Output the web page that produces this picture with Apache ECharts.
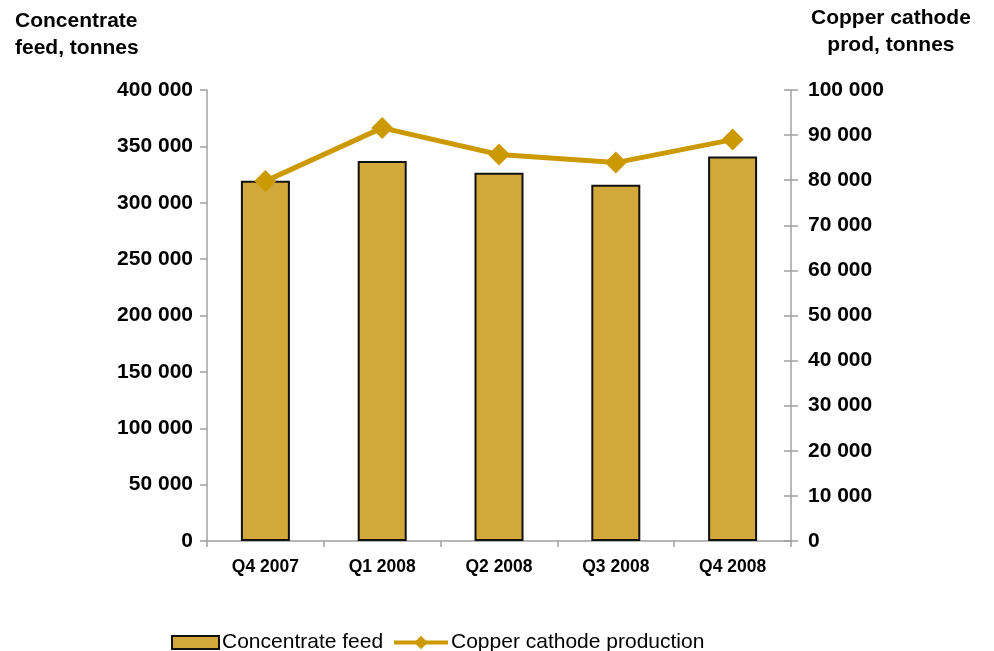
<!DOCTYPE html>
<html>
<head>
<meta charset="utf-8">
<script src="https://cdn.jsdelivr.net/npm/echarts@6/dist/echarts.min.js"></script>
<style>
  html, body { margin: 0; padding: 0; background: #fff; }
  #chart { width: 994px; height: 651px; }
</style>
</head>
<body>
<div id="chart"></div>
<script>
// Quarterly smelter figures
const quarters = ['Q4 2007', 'Q1 2008', 'Q2 2008', 'Q3 2008', 'Q4 2008'];
const concentrateFeed = [319500, 337000, 326500, 316000, 341000];   // tonnes, left axis
const cathodeProduction = [79800, 91600, 85700, 83900, 89000];      // tonnes, right axis

const FONT = '"Liberation Sans", Arial, sans-serif';
const BAR_FILL = '#D3A83A';
const LINE_COLOR = '#CC9900';
const AXIS_GREY = '#A0A0A0';

// "400 000" style thousands separator
const spaced = v => String(v).replace(/\B(?=(\d{3})+(?!\d))/g, ' ');

const legendText = { fontFamily: FONT, fontSize: 21, color: '#000', padding: [0, 0, 0, -2] };

const chart = echarts.init(document.getElementById('chart'), null, { renderer: 'canvas' });

chart.setOption({
  backgroundColor: '#ffffff',
  animation: false,
  grid: { left: 207, right: 203, top: 90, bottom: 110, containLabel: false },
  graphic: [
    { type: 'text', left: 15, top: 8,
      style: { text: 'Concentrate\nfeed, tonnes', font: 'bold 21px ' + FONT, fill: '#000', lineHeight: 27 } },
    { type: 'text', left: 811, top: 5,
      style: { text: 'Copper cathode\nprod, tonnes', font: 'bold 21px ' + FONT, fill: '#000',
               lineHeight: 27, align: 'center', textAlign: 'center' } }
  ],
  legend: [
    {
      left: 166, top: 627, itemWidth: 47, itemHeight: 13,
      textStyle: legendText,
      data: [{ name: 'Concentrate feed', icon: 'rect' }]
    },
    {
      left: 387, top: 627, itemWidth: 54, itemHeight: 17,
      textStyle: legendText,
      data: [{ name: 'Copper cathode production', lineStyle: { width: 4, color: LINE_COLOR } }]
    }
  ],
  xAxis: {
    type: 'category',
    data: quarters,
    axisLine: { lineStyle: { color: AXIS_GREY, width: 1.5 } },
    axisTick: { show: true, length: 6, lineStyle: { color: AXIS_GREY, width: 1.5 } },
    axisLabel: { margin: 17, fontFamily: FONT, fontWeight: 'bold', fontSize: 17.5, color: '#000' }
  },
  yAxis: [
    {
      type: 'value', min: 0, max: 400000, interval: 50000, position: 'left',
      splitLine: { show: false },
      axisLine: { show: true, lineStyle: { color: AXIS_GREY, width: 1.5 } },
      axisTick: { show: true, length: 7, lineStyle: { color: AXIS_GREY, width: 1.5 } },
      axisLabel: { margin: 14, fontFamily: FONT, fontWeight: 'bold', fontSize: 21, color: '#000', formatter: spaced }
    },
    {
      type: 'value', min: 0, max: 100000, interval: 10000, position: 'right',
      splitLine: { show: false },
      axisLine: { show: true, lineStyle: { color: AXIS_GREY, width: 1.5 } },
      axisTick: { show: true, length: 7, lineStyle: { color: AXIS_GREY, width: 1.5 } },
      axisLabel: { margin: 17, fontFamily: FONT, fontWeight: 'bold', fontSize: 21, color: '#000', formatter: spaced }
    },
    {
      // inner half of the right axis's crossing tick marks
      type: 'value', min: 0, max: 100000, interval: 10000, position: 'right',
      splitLine: { show: false },
      axisLine: { show: false },
      axisTick: { show: true, inside: true, length: 7, lineStyle: { color: AXIS_GREY, width: 1.5 } },
      axisLabel: { show: false }
    }
  ],
  series: [
    {
      name: 'Concentrate feed',
      type: 'bar',
      yAxisIndex: 0,
      data: concentrateFeed,
      barWidth: 49,
      itemStyle: { color: BAR_FILL, borderColor: '#111', borderWidth: 2 }
    },
    {
      name: 'Copper cathode production',
      type: 'line',
      yAxisIndex: 1,
      data: cathodeProduction,
      symbol: 'diamond',
      symbolSize: 22,
      lineStyle: { color: LINE_COLOR, width: 5 },
      itemStyle: { color: LINE_COLOR, borderWidth: 0 },
      z: 5
    }
  ]
});
</script>
</body>
</html>
